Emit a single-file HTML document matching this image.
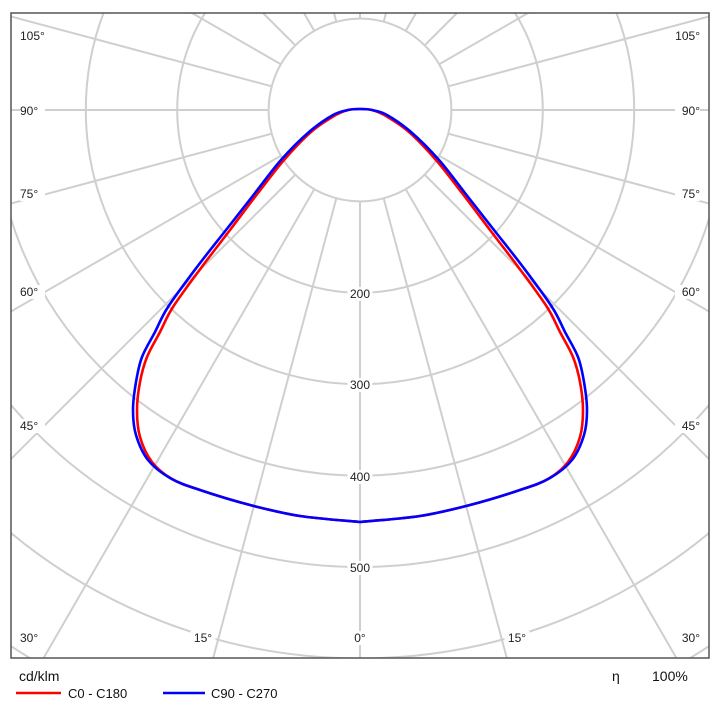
<!DOCTYPE html>
<html><head><style>
html,body{margin:0;padding:0;background:#fff;width:720px;height:712px;overflow:hidden;font-family:"Liberation Sans",sans-serif}
svg{display:block}
svg text{font-family:"Liberation Sans",sans-serif}
</style></head><body>
<svg id="s" width="720" height="712" viewBox="0 0 720 712" xmlns="http://www.w3.org/2000/svg" style="overflow:hidden">
<defs><clipPath id="c"><rect x="11" y="13" width="698" height="645"/></clipPath></defs>
<g id="grid" clip-path="url(#c)" stroke="#cfcfcf" stroke-width="2" fill="none"></g>
<g id="curves" clip-path="url(#c)" fill="none" stroke-width="2.6"></g>
<rect x="11" y="13" width="698" height="645" fill="none" stroke="#555" stroke-width="1.5"/>
<g id="labels" font-size="12" fill="#222"></g>
<text x="19" y="681" font-size="14" fill="#111">cd/klm</text>
<text x="612" y="681" font-size="14" fill="#111">η</text>
<text x="652" y="681" font-size="14" fill="#111">100%</text>
<line x1="16" y1="693" x2="61" y2="693" stroke="#f00" stroke-width="2.5"/>
<text x="68" y="698" font-size="13" fill="#111">C0 - C180</text>
<line x1="163" y1="693" x2="205" y2="693" stroke="#00f" stroke-width="2.5"/>
<text x="211" y="698" font-size="13" fill="#111">C90 - C270</text>
</svg>
<script>
var NS="http://www.w3.org/2000/svg",cx=360,cy=110,u=91.4;
function el(p,t,a,txt){var e=document.createElementNS(NS,t);for(var k in a)e.setAttribute(k,a[k]);if(txt)e.textContent=txt;p.appendChild(e);return e;}
var g=document.getElementById('grid');
for(var i=1;i<=8;i++)el(g,'circle',{cx:cx,cy:cy,r:i*u});
for(var a=-180;a<=180;a+=15){var r=a*Math.PI/180,dx=Math.sin(r),dy=Math.cos(r);
el(g,'line',{x1:cx+dx*u,y1:cy+dy*u,x2:cx+dx*700,y2:cy+dy*700});}
var L=document.getElementById('labels');
function lab(x,y,t,anchor){var w=t.length*7+4;var x0=anchor=='middle'?x-w/2:(anchor=='end'?x-w:x);
el(L,'rect',{x:x0,y:y-10,width:w,height:14,fill:'#fff'});el(L,'text',{x:x,y:y+1,'text-anchor':anchor},t);}
[[200,293],[300,384],[400,476],[500,567]].forEach(function(v){lab(cx,v[1]+4,String(v[0]),'middle');});
var side=[['105°',35],['90°',110],['75°',193],['60°',291],['45°',425],['30°',637]];
side.forEach(function(s){lab(20,s[1]+4,s[0],'start');lab(700,s[1]+4,s[0],'end');});
lab(203,641,'15°','middle');lab(517,641,'15°','middle');lab(360,641,'0°','middle');
function path(pts){var d='M'+pts[0][0]+','+pts[0][1];
for(var i=0;i<pts.length-1;i++){var p0=pts[Math.max(i-1,0)],p1=pts[i],p2=pts[i+1],p3=pts[Math.min(i+2,pts.length-1)];
d+=' C'+(p1[0]+(p2[0]-p0[0])/6)+','+(p1[1]+(p2[1]-p0[1])/6)+' '+(p2[0]-(p3[0]-p1[0])/6)+','+(p2[1]-(p3[1]-p1[1])/6)+' '+p2[0]+','+p2[1];}return d;}
function full(left){var pts=left.slice();for(var i=left.length-2;i>=0;i--)pts.push([2*cx-left[i][0],left[i][1]]);return pts;}
var blue=[[360,522],[300,516],[250,505],[200,490],[170,478],[148,460],[136,435],[133,410],[136,382],[142,357],[155,332],[168,307],[197,267],[226,230],[255,193],[281,160],[309,132],[333,115],[348,110],[360,109]];
var red=[[360,522],[300,516],[250,505],[200,490],[172,479],[152,462],[140,437],[137,410],[140,382],[147,357],[160,332],[173,307],[201,268],[230,230],[258,193],[284,160],[311,132],[334,116],[348,110],[360,109]];
var C=document.getElementById('curves');
el(C,'path',{d:path(full(red)),stroke:'#f00'});
el(C,'path',{d:path(full(blue)),stroke:'#00f'});
</script>
</body></html>
